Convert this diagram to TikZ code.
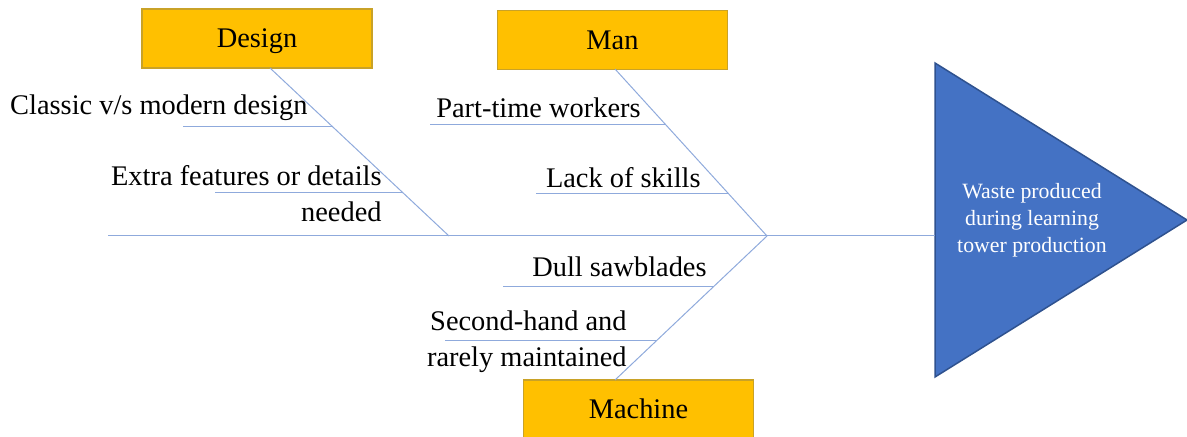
\documentclass[tikz,border=0pt]{standalone}
\usepackage{fontspec}
\setmainfont{Liberation Serif}
\usepackage{xcolor}
\usetikzlibrary{calc}

\begin{document}
\begin{tikzpicture}[x=0.5pt,y=-0.5pt,
  catbox/.style={draw=goldedge,fill=gold,line width=0.75pt,minimum width=115pt,minimum height=29.5pt,text height=9.5pt,text depth=0pt,font=\fontsize{14.2}{18}\selectfont},
  bone/.style={draw=bonecol,line width=0.5pt},
  cause/.style={inner sep=0pt,align=right,font=\fontsize{14.2}{18}\selectfont}]
\definecolor{gold}{HTML}{FFC000}
\definecolor{goldedge}{HTML}{C9A227}
\definecolor{headblue}{HTML}{4472C4}
\definecolor{headedge}{HTML}{2F528F}
\definecolor{bonecol}{HTML}{8FAADC}
\useasboundingbox (0,0) rectangle (1187,437);
\node [catbox] (design) at (257,38.5) {Design};
\node [catbox] (man) at (612.5,40) {Man};
\node [catbox] (machine) at (638.5,409.5) {Machine};
\coordinate (tail) at (108,236);
\coordinate (jd) at (449,236);
\coordinate (jm) at (767,236);
\coordinate (d0) at (270,68);
\coordinate (m0) at (615,69);
\coordinate (c0) at (615,380);
\coordinate (h1) at (935,63);
\coordinate (h2) at (1187,220);
\coordinate (h3) at (935,377);
\coordinate (hm) at (935,236);
\draw [draw=headedge,fill=headblue,line width=0.75pt] (h1) -- (h2) -- (h3) -- cycle;
\node [text=white,align=center,font=\fontsize{10.9}{13.5}\selectfont] (effect) at (1032,220) {Waste produced\\during learning\\tower production};
\draw [bone] (tail) -- (hm);
\draw [bone] (d0) -- (jd);
\draw [bone] (m0) -- (jm);
\draw [bone] (jm) -- (c0);
% ribs: bone ends / place along bone / length / name
\foreach \a/\b/\t/\len/\n in {d0/jd/0.351/150/r1, d0/jd/0.744/188/r2, m0/jm/0.335/236/r3, m0/jm/0.743/192/r4, jm/c0/0.354/210/r5, jm/c0/0.729/211/r6}
  { \coordinate (\n) at ($(\a)!\t!(\b)$);
    \draw [bone] (\n) -- ++(-\len,0);}
\node [cause,anchor=base east] (classic) at (308,115) {Classic v/s modern design};
\node [cause,anchor=base east] (extra) at (382,222) {Extra features or details\\needed};
\node [cause,anchor=base east] (parttime) at (641,118) {Part-time workers};
\node [cause,anchor=base east] (skills) at (701,188) {Lack of skills};
\node [cause,anchor=base east] (sawblades) at (707,277) {Dull sawblades};
\node [cause,anchor=base east] (secondhand) at (627,367) {Second-hand and\\rarely maintained};
\end{tikzpicture}
\end{document}
